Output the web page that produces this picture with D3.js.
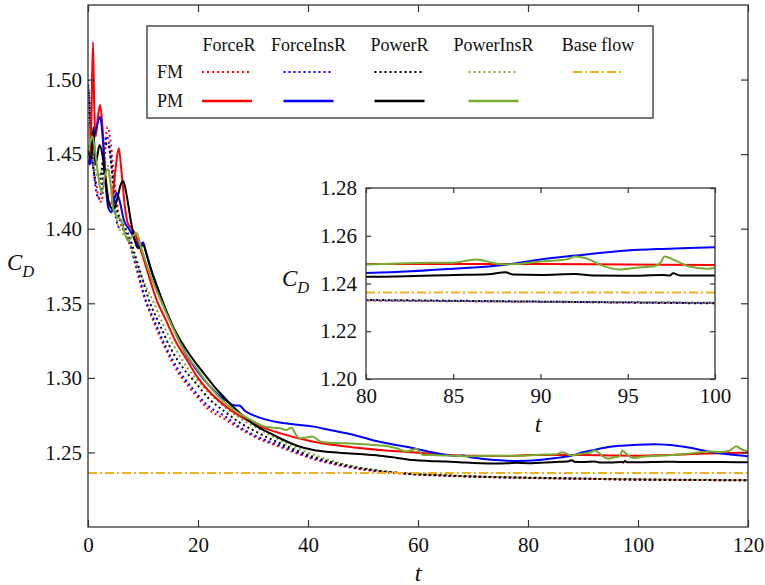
<!DOCTYPE html>
<html>
<head>
<meta charset="utf-8">
<script src="https://cdn.jsdelivr.net/npm/d3@7"></script>
<style>
  html, body { margin: 0; padding: 0; background: #fff; }
  svg { display: block; }
  text { font-family: "Liberation Serif", "Times New Roman", "DejaVu Serif", serif; fill: #111; }
</style>
</head>
<body>
<svg id="chart" width="765" height="585"></svg>
<script>
// Drag coefficient histories, [t, C_D] pairs.
// FM = dotted, PM = solid.
const fmForceR = [
  [0,1.485],[0.3,1.47],[0.6,1.448],[1.0,1.44],[1.5,1.43],[2.0,1.42],[2.5,1.418],[3.0,1.445],
  [3.5,1.468],[4.0,1.462],[4.6,1.44],[5.2,1.42],[5.8,1.405],[6.5,1.399],[7.2,1.393],[8.0,1.385],
  [8.7,1.375],[10,1.357],[12,1.337],[14,1.32],[16.5,1.303],[19,1.291],[21.6,1.28],[25,1.272],
  [27.6,1.266],[30,1.261],[35,1.2535],[41,1.2455],[47,1.2403],[53,1.2371],[59,1.2353],[65,1.2343],
  [77,1.2331],[90,1.2323],[100,1.2318],[110,1.2315],[120,1.2313]
];
const fmForceInsR = [
  [0,1.50],[0.3,1.48],[0.6,1.452],[1.0,1.44],[1.5,1.425],[2.0,1.42],[2.5,1.428],[3.0,1.455],
  [3.4,1.462],[3.9,1.455],[4.5,1.432],[5.1,1.407],[5.6,1.401],[6.3,1.40],[7.0,1.396],[7.7,1.389],
  [8.5,1.378],[9.3,1.368],[10.4,1.353],[12,1.339],[14,1.322],[16.5,1.305],[19,1.293],[21.6,1.282],
  [25,1.274],[27.6,1.267],[30,1.262],[35,1.2545],[41,1.2462],[47,1.2408],[53,1.2374],[59,1.2355],
  [65,1.2345],[77,1.2332],[90,1.2324],[100,1.2319],[110,1.2316],[120,1.2314]
];
const fmPowerR = [
  [0,1.495],[0.3,1.485],[0.6,1.46],[1.0,1.44],[1.5,1.43],[2.0,1.43],[2.5,1.44],[3.0,1.455],
  [3.6,1.457],[4.2,1.445],[4.8,1.425],[5.4,1.41],[6.1,1.405],[6.8,1.40],[7.6,1.394],[8.5,1.383],
  [9.5,1.371],[11.3,1.35],[13,1.336],[15,1.32],[17,1.308],[19.5,1.297],[22,1.286],[25,1.277],
  [27.6,1.27],[30,1.265],[35,1.256],[41,1.247],[47,1.2412],[53,1.2376],[59,1.2356],[65,1.2346],
  [77,1.2332],[80,1.2331],[90,1.2324],[100,1.2317],[110,1.2315],[120,1.2313]
];
const fmPowerInsR = [
  [0,1.47],[0.4,1.46],[0.8,1.45],[1.3,1.44],[1.8,1.435],[2.4,1.438],[3.0,1.445],[3.6,1.442],
  [4.2,1.43],[4.8,1.415],[5.4,1.403],[6.0,1.398],[6.8,1.395],[7.6,1.39],[8.5,1.38],[9.5,1.37],
  [12,1.35],[14,1.333],[16,1.319],[18,1.307],[19.5,1.30],[22,1.29],[25,1.28],[27.6,1.273],
  [30,1.268],[35,1.258],[41,1.2485],[47,1.2418],[53,1.2379],[59,1.2358],[65,1.2347],[77,1.2333],
  [90,1.2325],[100,1.232],[110,1.2317],[120,1.2315]
];
const pmForceR = [
  [0,1.447],[0.3,1.444],[0.6,1.47],[0.9,1.525],[1.15,1.48],[1.4,1.462],[1.8,1.475],[2.2,1.483],
  [2.6,1.47],[3.0,1.445],[3.5,1.425],[4.0,1.416],[4.5,1.422],[5.0,1.44],[5.6,1.454],[6.1,1.438],
  [6.7,1.415],[7.3,1.403],[8.0,1.40],[8.5,1.397],[9.2,1.39],[10,1.381],[11,1.369],[12.5,1.352],
  [14,1.34],[16,1.324],[18,1.312],[19.8,1.301],[22,1.291],[25,1.281],[28,1.2735],[32,1.2665],
  [35,1.2628],[41,1.2572],[47,1.2539],[53,1.2516],[59,1.2501],[65,1.2485],[70,1.2478],[77,1.2476],
  [80,1.2482],[85,1.2482],[90,1.2482],[95,1.248],[100,1.2478],[105,1.2482],[110,1.249],[115,1.2495],
  [120,1.2498]
];
const pmForceInsR = [
  [0,1.446],[0.3,1.443],[0.6,1.448],[1.0,1.46],[1.5,1.467],[2.2,1.475],[2.7,1.46],[3.2,1.43],
  [3.7,1.414],[4.3,1.411],[4.8,1.42],[5.2,1.424],[5.8,1.418],[6.5,1.406],[7.6,1.399],[8.5,1.393],
  [9.3,1.388],[10,1.391],[10.5,1.385],[11.5,1.372],[13,1.356],[15,1.338],[17.5,1.318],[20,1.304],
  [22,1.295],[25,1.285],[26.8,1.2815],[27.5,1.2815],[28.5,1.278],[30.7,1.274],[34.9,1.27],
  [38.5,1.2684],[41,1.2673],[44,1.265],[47,1.2628],[50,1.26],[53,1.2572],[56,1.255],[59.2,1.2528],
  [62,1.2505],[65.2,1.2483],[67.5,1.2476],[68.3,1.248],[69,1.2472],[71.5,1.2458],[73.8,1.245],
  [77.3,1.2443],[80,1.2444],[85,1.2462],[88,1.2479],[90,1.2501],[92,1.2517],[95,1.2538],
  [97,1.2545],[100,1.2552],[103,1.2555],[107,1.2545],[110,1.2528],[113,1.2505],[116,1.249],
  [120,1.2475]
];
const pmPowerR = [
  [0,1.454],[0.4,1.447],[0.7,1.452],[1.0,1.468],[1.3,1.443],[1.6,1.447],[2.1,1.456],[2.6,1.45],
  [3.2,1.432],[3.8,1.417],[4.6,1.413],[5.3,1.42],[6.0,1.43],[6.4,1.432],[7.0,1.423],[7.8,1.405],
  [8.5,1.392],[9.1,1.387],[9.6,1.388],[10,1.389],[10.7,1.382],[11.3,1.3746],[12.5,1.362],
  [13.7,1.35],[15.5,1.334],[17,1.324],[18.5,1.3155],[20,1.308],[21.6,1.3005],[23,1.294],
  [24.6,1.2875],[26,1.282],[27.6,1.2765],[30.7,1.2675],[32.5,1.264],[34.9,1.2595],[38,1.2545],
  [41,1.2516],[44,1.2503],[47,1.2494],[50,1.2487],[53,1.2478],[56,1.2465],[59.2,1.2449],[62,1.2443],
  [65.2,1.2439],[68,1.2433],[71.3,1.2427],[74,1.2425],[76.4,1.2427],[78,1.243],[80,1.2428],
  [85,1.2436],[87,1.2439],[88,1.2447],[88.4,1.2438],[90,1.2436],[92,1.244],[93,1.2433],[95,1.2432],
  [97,1.2436],[97.4,1.2433],[97.6,1.2443],[98,1.2434],[100,1.2434],[105,1.2437],[110,1.2436],
  [115,1.2436],[120,1.2434]
];
const pmPowerInsR = [
  [0,1.452],[0.4,1.458],[0.8,1.462],[1.3,1.452],[1.8,1.437],[2.5,1.424],[3.1,1.436],[3.6,1.44],
  [4.1,1.43],[4.6,1.413],[5.3,1.408],[6.0,1.406],[6.6,1.398],[7.3,1.392],[8.1,1.395],[8.9,1.397],
  [9.6,1.388],[10.5,1.378],[11.5,1.367],[13,1.354],[15,1.337],[17.5,1.318],[20,1.305],[22,1.295],
  [25,1.283],[28,1.275],[30,1.271],[32.5,1.267],[35,1.2662],[36,1.265],[37,1.2665],[37.8,1.262],
  [38.5,1.2595],[39.5,1.2598],[40.8,1.2606],[42.3,1.2572],[44,1.2565],[47,1.2561],[50,1.2555],
  [51.8,1.255],[54,1.2545],[56.1,1.2528],[57.9,1.2506],[59.7,1.2523],[60.9,1.2483],[63,1.2482],
  [65,1.248],[69,1.2475],[73,1.2477],[77,1.2478],[80,1.248],[83,1.2486],[85,1.2487],[86.3,1.2501],
  [87.5,1.2483],[88,1.248],[90,1.2492],[91.5,1.2501],[92,1.2513],[92.6,1.2506],[93.5,1.2476],
  [94.5,1.2459],[95.5,1.2466],[96.5,1.2472],[96.9,1.249],[97.1,1.2513],[97.7,1.2497],[98.5,1.2472],
  [99.5,1.2462],[100,1.2466],[102,1.2475],[105,1.248],[108,1.2487],[111,1.25],[113,1.2506],
  [115,1.2503],[116.5,1.251],[117.9,1.2541],[118.6,1.2525],[119.2,1.2515],[120,1.251]
];
const baseFlow = 1.2362;

// axis ticks
const mainXTicks = [0, 20, 40, 60, 80, 100, 120];
const mainYTicks = [1.25, 1.30, 1.35, 1.40, 1.45, 1.50];
const insetXTicks = [80, 85, 90, 95, 100];
const insetYTicks = [1.20, 1.22, 1.24, 1.26, 1.28];

// legend
const legendColumns = ["ForceR", "ForceInsR", "PowerR", "PowerInsR", "Base flow"];
const legendRows = ["FM", "PM"];

const colors = { ForceR: "#ff0000", ForceInsR: "#0000ff", PowerR: "#000000", PowerInsR: "#77ac30", base: "#edb120" };

const series = [
  { data: fmForceR,    color: colors.ForceR,    style: "fm" },
  { data: fmForceInsR, color: colors.ForceInsR, style: "fm" },
  { data: fmPowerInsR, color: colors.PowerInsR, style: "fm" },
  { data: fmPowerR,    color: colors.PowerR,    style: "fm" },
  { data: pmForceR,    color: colors.ForceR,    style: "pm" },
  { data: pmForceInsR, color: colors.ForceInsR, style: "pm" },
  { data: pmPowerR,    color: colors.PowerR,    style: "pm" },
  { data: pmPowerInsR, color: colors.PowerInsR, style: "pm" }
];

const svg = d3.select("#chart");
const axisColor = "#333";
const serif = '"Liberation Serif", "Times New Roman", "DejaVu Serif", serif';
const fmt = d3.format(".2f");

function drawPanel(g, x, y, opts) {
  const [x0, x1] = x.range();
  const [y0, y1] = y.range(); // y0 bottom, y1 top
  const clipId = opts.id + "-clip";
  g.append("clipPath").attr("id", clipId)
    .append("rect").attr("x", x0).attr("y", y1).attr("width", x1 - x0).attr("height", y0 - y1);
  g.append("rect").attr("x", x0).attr("y", y1).attr("width", x1 - x0).attr("height", y0 - y1)
    .attr("fill", "#fff");

  const plot = g.append("g").attr("clip-path", `url(#${clipId})`);
  const line = d3.line().x(d => x(d[0])).y(d => y(d[1])).curve(d3.curveMonotoneX);

  series.forEach(s => {
    plot.append("path").datum(s.data)
      .attr("d", line)
      .attr("fill", "none")
      .attr("stroke", s.color)
      .attr("stroke-width", 2)
      .attr("stroke-dasharray", s.style === "fm" ? opts.dotDash : null)
      .attr("stroke-linejoin", "round");
  });

  plot.append("line")
    .attr("x1", x0).attr("x2", x1)
    .attr("y1", y(baseFlow)).attr("y2", y(baseFlow))
    .attr("stroke", colors.base).attr("stroke-width", 2)
    .attr("stroke-dasharray", "9,3,2,3");

  // axes with inward ticks on all four sides
  const tk = opts.tick;
  const styleAxis = a => {
    a.attr("font-family", serif);
    a.select(".domain").remove();
    a.selectAll(".tick line").attr("stroke", axisColor).attr("stroke-width", 1.2);
    a.selectAll("text").attr("font-family", serif).attr("font-size", opts.fontSize).attr("fill", "#111");
  };
  g.append("g").attr("transform", `translate(0,${y0})`)
    .call(d3.axisBottom(x).tickValues(opts.xTicks).tickSizeInner(-tk).tickSizeOuter(0).tickPadding(opts.xPad).tickFormat(d3.format("d")))
    .call(styleAxis);
  g.append("g").attr("transform", `translate(0,${y1})`)
    .call(d3.axisTop(x).tickValues(opts.xTicks).tickSizeInner(-tk).tickSizeOuter(0).tickFormat(""))
    .call(styleAxis);
  g.append("g").attr("transform", `translate(${x0},0)`)
    .call(d3.axisLeft(y).tickValues(opts.yTicks).tickSizeInner(-tk).tickSizeOuter(0).tickPadding(opts.yPad).tickFormat(fmt))
    .call(styleAxis);
  g.append("g").attr("transform", `translate(${x1},0)`)
    .call(d3.axisRight(y).tickValues(opts.yTicks).tickSizeInner(-tk).tickSizeOuter(0).tickFormat(""))
    .call(styleAxis);

  g.append("rect").attr("x", x0).attr("y", y1).attr("width", x1 - x0).attr("height", y0 - y1)
    .attr("fill", "none").attr("stroke", axisColor).attr("stroke-width", 1.3);
}

function drawCD(g, xPos, yPos, size) {
  const t = g.append("text").attr("x", xPos).attr("y", yPos)
    .attr("font-family", serif).attr("font-style", "italic").attr("font-size", size);
  t.append("tspan").text("C");
  t.append("tspan").attr("font-size", size * 0.72).attr("dy", size * 0.3).text("D");
}

// main panel
const xMain = d3.scaleLinear().domain([0, 120]).range([88, 748]);
const yMain = d3.scaleLinear().domain([1.20, 1.55]).range([527, 5]);
const gMain = svg.append("g");
drawPanel(gMain, xMain, yMain, {
  id: "main", xTicks: mainXTicks, yTicks: mainYTicks, tick: 7, xPad: 10, yPad: 6,
  fontSize: 21, dotDash: "2,3"
});
drawCD(gMain, 7, 270, 23);
gMain.append("text").attr("x", 418).attr("y", 581).attr("text-anchor", "middle")
  .attr("font-family", serif).attr("font-style", "italic").attr("font-size", 24).text("t");

// legend
const lg = svg.append("g").attr("font-family", serif);
lg.append("rect").attr("x", 147).attr("y", 26).attr("width", 506).attr("height", 92)
  .attr("fill", "#fff").attr("stroke", axisColor).attr("stroke-width", 1.3);
const colCenters = { ForceR: 227, ForceInsR: 308.5, PowerR: 399.5, PowerInsR: 493.5, "Base flow": 598 };
const rowY = d3.scaleOrdinal().domain(legendRows).range([72, 101]);
legendColumns.forEach(c => {
  lg.append("text").attr("x", colCenters[c] + (c === "ForceR" ? 2 : 0)).attr("y", 51)
    .attr("text-anchor", "middle").attr("font-size", 18).text(c);
});
legendRows.forEach(r => {
  lg.append("text").attr("x", 157).attr("y", rowY(r) + 6).attr("font-size", 18).text(r);
});
["ForceR", "ForceInsR", "PowerR", "PowerInsR"].forEach(c => {
  legendRows.forEach(r => {
    const cx = colCenters[c];
    lg.append("line").attr("x1", cx - 25).attr("x2", cx + 25)
      .attr("y1", rowY(r)).attr("y2", rowY(r))
      .attr("stroke", colors[c]).attr("stroke-width", r === "FM" ? 2 : 2.4)
      .attr("stroke-dasharray", r === "FM" ? "2,3" : null);
  });
});
lg.append("line").attr("x1", colCenters["Base flow"] - 25).attr("x2", colCenters["Base flow"] + 25)
  .attr("y1", rowY("FM")).attr("y2", rowY("FM"))
  .attr("stroke", colors.base).attr("stroke-width", 2).attr("stroke-dasharray", "9,3,2,3");

// inset panel
const xIn = d3.scaleLinear().domain([80, 100]).range([366, 715]);
const yIn = d3.scaleLinear().domain([1.20, 1.28]).range([379, 188]);
const gIn = svg.append("g");
drawPanel(gIn, xIn, yIn, {
  id: "inset", xTicks: insetXTicks, yTicks: insetYTicks, tick: 5, xPad: 9, yPad: 9,
  fontSize: 21, dotDash: "2,4"
});
drawCD(gIn, 282, 286, 23);
gIn.append("text").attr("x", 538).attr("y", 432).attr("text-anchor", "middle")
  .attr("font-family", serif).attr("font-style", "italic").attr("font-size", 24).text("t");
</script>
</body>
</html>
